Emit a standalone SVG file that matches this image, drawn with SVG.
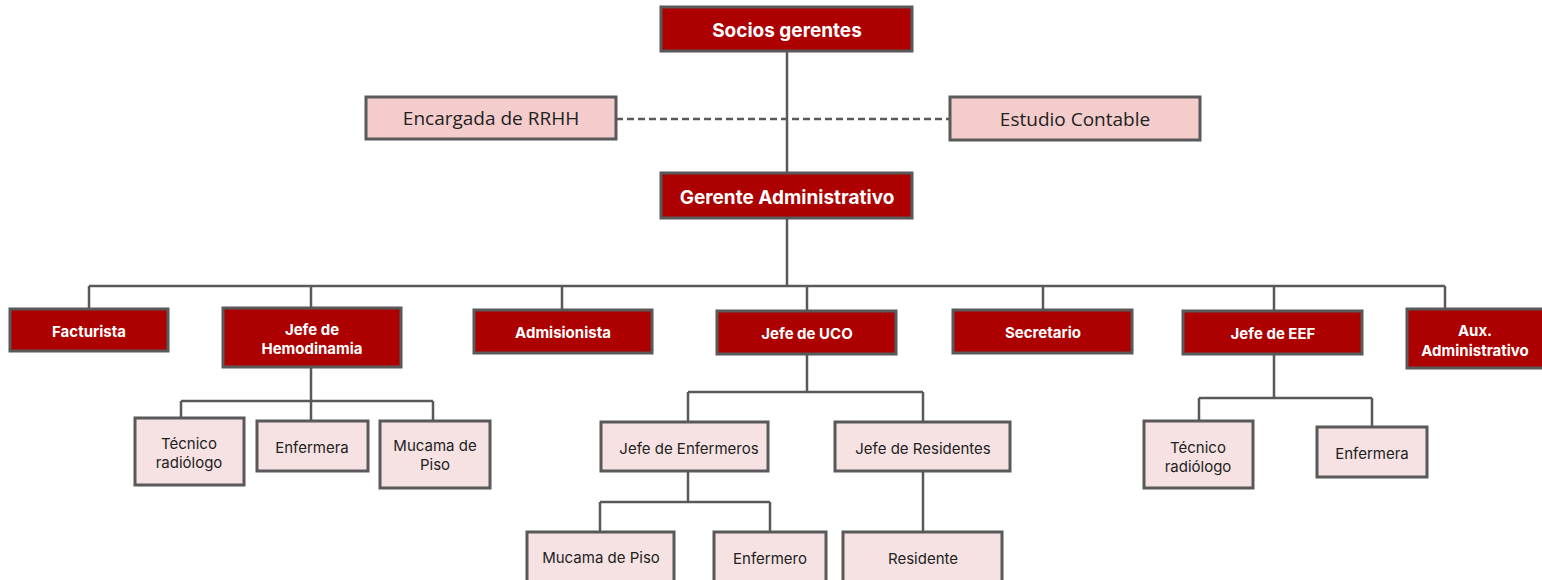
<svg xmlns="http://www.w3.org/2000/svg" width="1542" height="580" viewBox="0 0 1542 580">
<style>
.red{fill:#AD0000;stroke:#595959;stroke-width:3}
.pink{fill:#F4CCCC;stroke:#595959;stroke-width:3}
.light{fill:#F6E2E2;stroke:#595959;stroke-width:3}
.tb{font-family:Inter,"Open Sans",sans-serif;font-weight:bold;fill:#fff;text-anchor:middle;dominant-baseline:central}
.tl{font-family:Inter,"Open Sans",sans-serif;fill:#222;text-anchor:middle;dominant-baseline:central;font-size:15px}
.to{font-family:"Open Sans",sans-serif;fill:#222;text-anchor:middle;dominant-baseline:central;font-size:19px}
.c{fill:none;stroke:#595959;stroke-width:2.5}
</style>
<rect width="1542" height="580" fill="#fff"/>
<g id="connectors">
<path class="c" d="M787 51V173M787 218V286M89 286H1445M89 286V309M311 286V308M562 286V310M807 286V311M1043 286V310M1274 286V311M1445 286V309"/>
<path class="c" d="M616 119H950" stroke-dasharray="7,4"/>
<path class="c" d="M311 367V401M181 401H433M181 401V418M311 401V421M433 401V421"/>
<path class="c" d="M807 354V392M688 392H923M688 392V422M923 392V422"/>
<path class="c" d="M688 471V502M600 502H770M600 502V532M770 502V532"/>
<path class="c" d="M923 471V532"/>
<path class="c" d="M1274 354V398M1199 398H1372M1199 398V421M1372 398V427"/>
</g>
<g id="socios"><rect class="red" x="661" y="7" width="251" height="44"/><text class="tb" x="787" y="30" font-size="19">Socios gerentes</text></g>
<g id="rrhh"><rect class="pink" x="366" y="97" width="250" height="42"/><text class="to" x="491" y="118">Encargada de RRHH</text></g>
<g id="contable"><rect class="pink" x="950" y="97" width="250" height="43"/><text class="to" x="1075" y="119">Estudio Contable</text></g>
<g id="gerente"><rect class="red" x="661" y="173" width="251" height="45"/><text class="tb" x="787" y="197" font-size="19">Gerente Administrativo</text></g>
<g id="facturista"><rect class="red" x="10" y="309" width="158" height="42"/><text class="tb" x="89" y="331" font-size="15">Facturista</text></g>
<g id="hemodinamia"><rect class="red" x="223" y="308" width="178" height="59"/><text class="tb" x="312" y="329" font-size="15">Jefe de</text><text class="tb" x="312" y="348" font-size="15">Hemodinamia</text></g>
<g id="admisionista"><rect class="red" x="474" y="310" width="178" height="43"/><text class="tb" x="563" y="332" font-size="15">Admisionista</text></g>
<g id="uco"><rect class="red" x="717" y="311" width="179" height="43"/><text class="tb" x="807" y="333" font-size="15">Jefe de UCO</text></g>
<g id="secretario"><rect class="red" x="953" y="310" width="179" height="43"/><text class="tb" x="1043" y="332" font-size="15">Secretario</text></g>
<g id="eef"><rect class="red" x="1183" y="311" width="179" height="43"/><text class="tb" x="1273" y="333" font-size="15">Jefe de EEF</text></g>
<g id="aux"><rect class="red" x="1407" y="309" width="140" height="59"/><text class="tb" x="1475" y="330" font-size="15">Aux.</text><text class="tb" x="1475" y="350" font-size="15">Administrativo</text></g>
<g id="hemo-tecnico"><rect class="light" x="135" y="418" width="109" height="67"/><text class="tl" x="189" y="443">Técnico</text><text class="tl" x="189" y="462">radiólogo</text></g>
<g id="hemo-enfermera"><rect class="light" x="257" y="421" width="111" height="50"/><text class="tl" x="312" y="447">Enfermera</text></g>
<g id="hemo-mucama"><rect class="light" x="380" y="421" width="110" height="67"/><text class="tl" x="435" y="445">Mucama de</text><text class="tl" x="435" y="464">Piso</text></g>
<g id="jefe-enfermeros"><rect class="light" x="601" y="422" width="167" height="49"/><text class="tl" x="689" y="448">Jefe de Enfermeros</text></g>
<g id="jefe-residentes"><rect class="light" x="835" y="422" width="175" height="49"/><text class="tl" x="923" y="448">Jefe de Residentes</text></g>
<g id="uco-mucama"><rect class="light" x="527" y="532" width="147" height="50"/><text class="tl" x="601" y="557">Mucama de Piso</text></g>
<g id="uco-enfermero"><rect class="light" x="714" y="532" width="112" height="50"/><text class="tl" x="770" y="558">Enfermero</text></g>
<g id="residente"><rect class="light" x="843" y="532" width="159" height="50"/><text class="tl" x="923" y="558">Residente</text></g>
<g id="eef-tecnico"><rect class="light" x="1144" y="421" width="109" height="67"/><text class="tl" x="1198" y="447">Técnico</text><text class="tl" x="1198" y="466">radiólogo</text></g>
<g id="eef-enfermera"><rect class="light" x="1317" y="427" width="110" height="50"/><text class="tl" x="1372" y="453">Enfermera</text></g>
</svg>
